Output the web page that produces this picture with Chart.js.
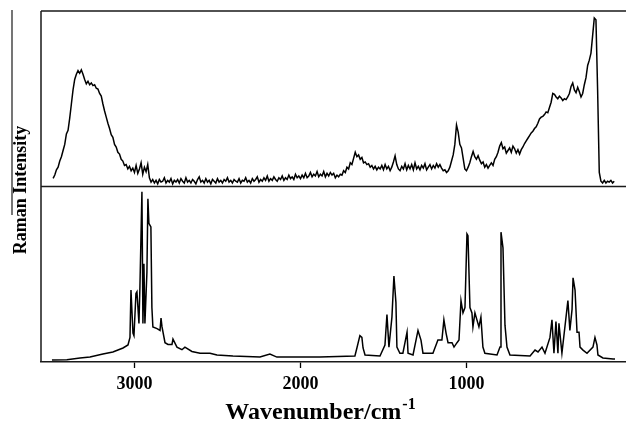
<!DOCTYPE html>
<html>
<head>
<meta charset="utf-8">
<title>Raman spectra</title>
<script src="https://cdn.jsdelivr.net/npm/chart.js@4.4.1/dist/chart.umd.min.js"></script>
<style>
  html, body { margin: 0; padding: 0; background: #fff; }
  #wrap { width: 626px; height: 426px; }
</style>
</head>
<body>
<div id="wrap"><canvas id="ramanChart" width="626" height="426"></canvas></div>
<script>
var xTicks = [3000, 2000, 1000];

// upper trace: one value every 10 cm-1, from 3490 down to 110
var topStart = 3490;
var topStep = 10;
var topIntensity = [
    4.6, 6.5, 9.5, 11, 14.5, 17, 20.5, 24, 30, 32,
    39, 47, 55, 61, 64, 66, 64.5, 66.5, 64, 61,
    58.5, 60, 58, 59, 57.5, 58, 56, 55.5, 53, 51.5,
    47, 43, 39.5, 36, 33, 29.5, 28, 24, 22.5, 19.5,
    18.5, 15.5, 14.5, 12, 12.5, 10, 11.5, 9, 10.5, 8,
    12, 7.5, 10, 13.5, 7, 11, 8.5, 12.5, 5, 2.5,
    4, 2, 3.5, 1.5, 4, 2.5, 3, 5, 2, 3.5,
    2.5, 4.5, 1.5, 3.5, 2.5, 4, 2, 4.5, 3, 2,
    5, 2.5, 3.5, 2, 4, 3, 1.5, 4, 5.5, 2.5,
    3.5, 2, 4.5, 2.5, 3.5, 1.5, 4, 3, 2, 4.5,
    2.5, 3.5, 2, 4, 3, 5, 2.5, 3.5, 2, 4,
    3, 2.5, 4.5, 2, 3.5, 3, 5, 2.5, 3.5, 2,
    4.5, 3, 4, 5.5, 2.5, 4, 3, 5, 3.5, 6,
    3, 4.5, 3.5, 5.5, 4, 3, 5, 4, 6, 3.5,
    5, 4, 6.5, 4.5, 5.5, 4, 7, 5, 6, 4.5,
    6.5, 5, 7.5, 5, 6, 8, 5.5, 7, 6, 8.5,
    5.5, 7, 6, 8.5, 5.5, 7.5, 6, 8, 6.5, 7.5,
    5, 6.5, 5.5, 7, 6.5, 9, 8, 11, 10, 13.5,
    12.5, 16, 19.5, 17, 18, 15.5, 16.5, 13.5, 14, 12.5,
    13, 11, 12, 10, 11.5, 9.5, 11, 10, 12, 9.5,
    12.5, 10, 11.5, 9, 11, 14, 17.5, 12.5, 10, 9,
    11.5, 10, 13, 9.5, 12, 10, 12.5, 9.5, 13.5, 10,
    11.5, 9.5, 12, 10.5, 13, 9.5, 11, 12.5, 10, 12,
    10.5, 13, 11, 12.5, 10.5, 9, 9.5, 8, 9, 11,
    14.5, 18, 24, 35, 31, 24, 22, 16, 10, 9,
    11, 13.5, 17, 20, 17, 15.5, 17.5, 15, 13, 14,
    11, 12.5, 10.5, 12, 13.5, 12, 15.5, 17, 19.5, 23,
    25, 21.5, 22.5, 19, 20.5, 22, 19.5, 23, 21.5, 19,
    21, 18.5, 21, 22.5, 24.5, 26, 27.5, 29, 30.5, 31.5,
    33, 34, 36, 38.5, 39.5, 40, 41, 42.5, 42, 45,
    48, 53, 52.5, 51, 50, 51.5, 50.5, 49, 50, 49.5,
    51, 53, 57, 59, 55, 53.5, 56.5, 54, 51, 53,
    58, 62, 69, 72, 76, 86, 96, 95, 55, 8,
    3, 2, 3.5, 2, 3, 2.5, 3.5, 2, 3
];

// lower trace
var bottomWavenumber = [
    3497, 3407, 3328, 3268, 3190, 3130, 3069, 3039, 3027, 3021,
    3009, 3003, 2991, 2985, 2973, 2967, 2955, 2949, 2943, 2937,
    2925, 2919, 2913, 2901, 2895, 2889, 2864, 2846, 2840, 2834,
    2816, 2798, 2774, 2768, 2744, 2714, 2696, 2654, 2605, 2545,
    2503, 2407, 2244, 2184, 2142, 2003, 1883, 1672, 1660, 1642,
    1630, 1623, 1611, 1521, 1491, 1479, 1467, 1449, 1437, 1425,
    1419, 1401, 1383, 1358, 1352, 1322, 1292, 1274, 1262, 1202,
    1172, 1148, 1136, 1123, 1111, 1087, 1075, 1057, 1045, 1033,
    1021, 1009, 997, 991, 979, 967, 961, 949, 937, 925,
    913, 901, 889, 816, 798, 792, 780, 768, 756, 738,
    617, 587, 569, 545, 527, 497, 485, 473, 461, 449,
    443, 425, 395, 389, 377, 364, 358, 346, 334, 322,
    316, 298, 274, 238, 226, 214, 208, 178, 117, 105
];
var bottomIntensity = [
    1.1, 1.3, 2.3, 2.8, 4.5, 5.7, 8, 9.7, 14, 41,
    16.5, 15, 39, 40, 22, 43, 97, 22, 56, 22,
    51, 93, 79, 77, 31, 20, 19, 18, 25, 20,
    11, 10, 10, 13, 8.5, 7, 8.5, 6, 5, 5,
    4, 3.4, 2.8, 4.5, 2.8, 2.8, 2.8, 3.4, 8, 15,
    14, 8, 4, 3.4, 9.7, 27, 8.5, 25.6, 49, 34,
    8.5, 5, 5, 17, 5, 4, 18, 12.5, 5, 5,
    12.5, 12.5, 24, 16.5, 11, 11, 8.5, 11, 12.5, 35,
    28, 31, 73, 72, 31, 28, 20, 28, 24, 20,
    25.6, 8.5, 5, 4, 8.5, 74, 65, 21, 8.5, 4,
    3.4, 6.8, 5.7, 8.5, 5, 14, 24, 5, 23, 5,
    22, 5, 30, 35, 18, 30, 48, 41, 17, 17,
    8.5, 6.8, 5, 8.5, 14, 9.7, 4, 2.3, 1.7, 1.7
];

var serif = '"Liberation Serif", "Times New Roman", serif';

var topPoints = topIntensity.map(function (v, i) {
    return { x: topStart - i * topStep, y: v };
});
var bottomPoints = bottomWavenumber.map(function (w, i) {
    return { x: w, y: bottomIntensity[i] };
});

// box lines, rotated y title and the x title with its superscript
var framePlugin = {
    id: 'frame',
    afterDraw: function (chart) {
        var ctx = chart.ctx;
        var area = chart.chartArea;
        var mid = chart.scales.yBottom.top;
        ctx.save();
        ctx.strokeStyle = '#1a1a1a';
        ctx.lineWidth = 1.5;
        ctx.beginPath();
        ctx.moveTo(area.left, area.top);
        ctx.lineTo(area.right, area.top);
        ctx.moveTo(area.left, area.top);
        ctx.lineTo(area.left, area.bottom);
        ctx.moveTo(area.left, mid);
        ctx.lineTo(area.right, mid);
        ctx.stroke();

        ctx.lineWidth = 1.2;
        ctx.beginPath();
        ctx.moveTo(12, 10);
        ctx.lineTo(12, 215);
        ctx.stroke();

        ctx.fillStyle = '#000';
        ctx.save();
        ctx.translate(26, 190);
        ctx.rotate(-Math.PI / 2);
        ctx.font = 'bold 18px ' + serif;
        ctx.textAlign = 'center';
        ctx.textBaseline = 'alphabetic';
        ctx.fillText('Raman Intensity', 0, 0);
        ctx.restore();

        var main = 'Wavenumber/cm';
        var sup = '-1';
        ctx.font = 'bold 24px ' + serif;
        var w1 = ctx.measureText(main).width;
        ctx.font = 'bold 16px ' + serif;
        var w2 = ctx.measureText(sup).width;
        var x0 = 320 - (w1 + w2) / 2;
        ctx.textAlign = 'left';
        ctx.font = 'bold 24px ' + serif;
        ctx.fillText(main, x0, 419);
        ctx.font = 'bold 16px ' + serif;
        ctx.fillText(sup, x0 + w1 + 1, 409);
        ctx.restore();
    }
};

var ctx = document.getElementById('ramanChart').getContext('2d');

var ramanChart = new Chart(ctx, {
    type: 'line',
    data: {
        datasets: [{
            label: 'upper',
            data: topPoints,
            yAxisID: 'yTop',
            borderColor: '#000',
            borderWidth: 1.5,
            pointRadius: 0,
            tension: 0
        }, {
            label: 'lower',
            data: bottomPoints,
            yAxisID: 'yBottom',
            borderColor: '#000',
            borderWidth: 1.5,
            pointRadius: 0,
            tension: 0
        }]
    },
    options: {
        responsive: false,
        animation: false,
        devicePixelRatio: 1,
        layout: { padding: { left: 41, top: 11, right: 0, bottom: 0 } },
        plugins: {
            legend: { display: false },
            tooltip: { enabled: false }
        },
        scales: {
            x: {
                type: 'linear',
                reverse: true,
                min: 39,
                max: 3563,
                afterBuildTicks: function (scale) {
                    scale.ticks = xTicks.map(function (v) { return { value: v }; });
                },
                afterFit: function (scale) { scale.height = 64; },
                grid: {
                    drawOnChartArea: false,
                    drawTicks: true,
                    tickLength: 6,
                    tickWidth: 1.3,
                    color: '#000'
                },
                border: { display: true, color: '#1a1a1a', width: 1.5 },
                ticks: {
                    color: '#000',
                    padding: 6,
                    maxRotation: 0,
                    font: { family: serif, size: 18, weight: 'bold' },
                    callback: function (v) { return String(v); }
                }
            },
            yTop: {
                type: 'linear',
                position: 'left',
                stack: 'panels',
                stackWeight: 1,
                weight: 2,
                min: 0,
                max: 100,
                afterFit: function (scale) { scale.width = 0; },
                grid: { display: false },
                border: { display: false },
                ticks: { display: false }
            },
            yBottom: {
                type: 'linear',
                position: 'left',
                stack: 'panels',
                stackWeight: 1,
                weight: 1,
                min: 0,
                max: 100,
                afterFit: function (scale) { scale.width = 0; },
                grid: { display: false },
                border: { display: false },
                ticks: { display: false }
            }
        }
    },
    plugins: [framePlugin]
});
</script>
</body>
</html>
